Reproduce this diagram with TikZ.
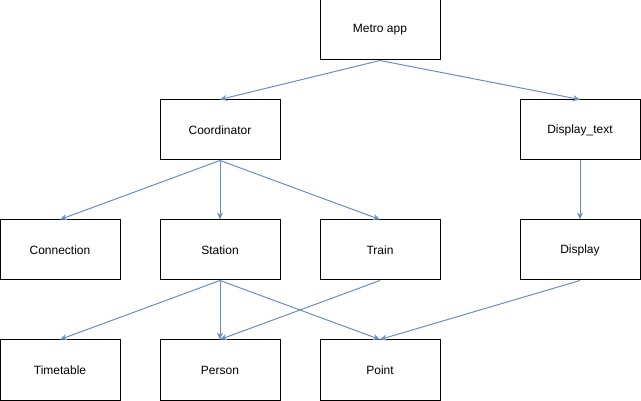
\documentclass[tikz,border=0pt]{standalone}
\usepackage{fontspec}
\setmainfont{Liberation Sans}
\usetikzlibrary{arrows.meta}
\definecolor{edgeblue}{HTML}{6C8EBF}
\begin{document}
\begin{tikzpicture}[x=1pt,y=-1pt,
  box/.style={draw=black,line width=1pt,fill=white,minimum width=120pt,minimum height=60pt,inner sep=0pt,font=\fontsize{12}{14}\selectfont},
  link/.style={draw=edgeblue,line width=1pt,-{Stealth[length=7pt,width=6pt]}}]
\useasboundingbox (0,0) rectangle (641,401);
\node[box] (metro) at (380,30) {Metro app};
\node[box] (coord) at (220,130) {Coordinator};
\node[box] (dtext) at (580,130) {Display\_text};
\node[box] (conn) at (60,250) {Connection};
\node[box] (station) at (220,250) {Station};
\node[box] (train) at (380,250) {Train};
\node[box] (disp) at (580,250) {Display};
\node[box] (tt) at (60,370) {Timetable};
\node[box] (person) at (220,370) {Person};
\node[box] (point) at (380,370) {Point};
\draw[link] (metro.south) -- (coord.north);
\draw[link] (metro.south) -- (dtext.north);
\draw[link] (coord.south) -- (conn.north);
\draw[link] (coord.south) -- (station.north);
\draw[link] (coord.south) -- (train.north);
\draw[link] (dtext.south) -- (disp.north);
\draw[link] (station.south) -- (tt.north);
\draw[link] (station.south) -- (person.north);
\draw[link] (station.south) -- (point.north);
\draw[link] (train.south) -- (person.north);
\draw[link] (disp.south) -- (point.north);
\end{tikzpicture}
\end{document}
